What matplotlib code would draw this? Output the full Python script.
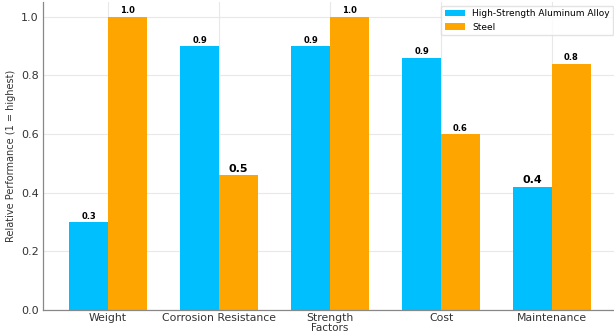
import matplotlib
matplotlib.use('Agg')
import matplotlib.pyplot as plt
import numpy as np

factors = ['Weight', 'Corrosion Resistance', 'Strength', 'Cost', 'Maintenance']
aluminum = [0.30, 0.90, 0.90, 0.86, 0.42]
steel = [1.00, 0.46, 1.00, 0.60, 0.84]
series_names = ['High-Strength Aluminum Alloy', 'Steel']
# bar labels drawn larger on these (series, index) pairs
emphasised = [(1, 1), (0, 4)]

fig = plt.figure(figsize=(6.14, 3.35), dpi=100)
ax = fig.add_axes([43 / 614, 25 / 335, 574 / 614, 308 / 335])

x = np.arange(len(factors))
width = 0.35
bars_al = ax.bar(x - width / 2, aluminum, width, label=series_names[0], color='#00BFFF', zorder=2)
bars_st = ax.bar(x + width / 2, steel, width, label=series_names[1], color='#FFA500', zorder=2)

for s, bars in enumerate([bars_al, bars_st]):
    for i, bar in enumerate(bars):
        size = 8 if (s, i) in emphasised else 6
        ax.text(bar.get_x() + bar.get_width() / 2, bar.get_height() + 0.005,
                f'{bar.get_height():.1f}', ha='center', va='bottom',
                fontsize=size, fontweight='bold', zorder=3)

ax.set_xticks(x)
ax.set_xticklabels(factors, fontsize=7.8, color='#333333')
ax.tick_params(axis='y', labelsize=8, labelcolor='#333333', pad=3)
ax.tick_params(axis='x', length=0, pad=2)
ax.tick_params(axis='y', length=0)
ax.set_xlabel('Factors', fontsize=7.5, color='#333333', labelpad=0.5)
ax.set_ylabel('Relative Performance (1 = highest)', fontsize=7, color='#333333', labelpad=4)

ax.grid(True, color='#e8e8e8', linewidth=0.8, zorder=0)
ax.set_axisbelow(True)
for side in ['top', 'right']:
    ax.spines[side].set_visible(False)
for side in ['left', 'bottom']:
    ax.spines[side].set_color('#888888')
    ax.spines[side].set_linewidth(0.9)

ax.legend(loc='upper right', fontsize=6.5, frameon=True, edgecolor='#dddddd',
          borderaxespad=0.4, handlelength=2.2)

fig.savefig('out.png', dpi=100)
